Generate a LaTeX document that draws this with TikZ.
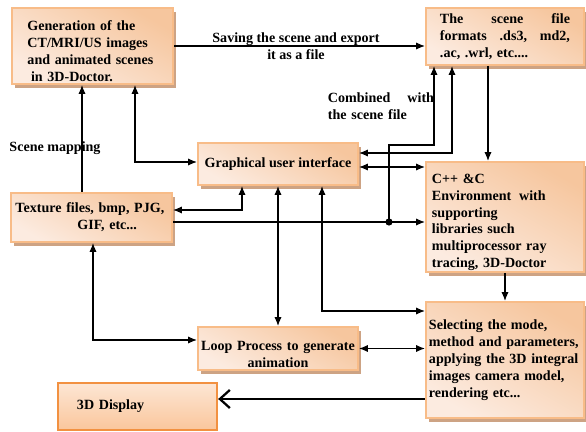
\documentclass[tikz,border=0pt]{standalone}
\usepackage{fontspec}
\setmainfont{Liberation Serif}
\usepackage{xcolor}
\usepackage{tikz}
\usetikzlibrary{positioning,arrows.meta,calc,shadows}
\definecolor{boxedge}{RGB}{248,188,136}
\definecolor{boxtop}{RGB}{246,198,158}
\definecolor{boxbottom}{RGB}{252,235,224}
\definecolor{boxshadow}{RGB}{205,163,132}
\definecolor{dispedge}{RGB}{242,145,65}
\definecolor{disptop}{RGB}{253,230,212}
\definecolor{dispbottom}{RGB}{250,198,156}
\newcommand{\diagfont}{\fontsize{10pt}{12pt}\selectfont\bfseries}

\begin{document}
\begin{tikzpicture}[x=0.025cm, y=-0.025cm,
    >={Latex[length=2.2mm,width=1.8mm]},
    stagebox/.style={draw=boxedge, line width=1.4pt, top color=boxtop, bottom color=boxbottom,
        shading angle=-30, inner sep=0pt, font=\diagfont,
        drop shadow={shadow xshift=0.08cm, shadow yshift=-0.1cm, fill=boxshadow, opacity=1}},
    displaybox/.style={draw=dispedge, line width=1.6pt, top color=disptop, bottom color=dispbottom, font=\diagfont},
    link/.style={line width=0.9pt},
    note/.style={font=\diagfont, align=center}]
    \useasboundingbox (0,0) rectangle (586,432);

    % Boxes
    \node[stagebox, minimum width=4.025cm, minimum height=1.9cm, text width=3.25cm, align=left] (gen) at (92.5,46)
        {\rule{0pt}{0.5cm}Generation of the\\ CT/MRI/US images\\ and animated scenes\\ \hspace*{0.25em}in 3D-Doctor.};
    \node[stagebox, minimum width=3.95cm, minimum height=1.425cm, text width=3.25cm, align=left] (scene) at (505,36.5)
        {The \hfill scene \hfill file\\ formats \hfill .ds3, \hfill md2,\\ .ac, .wrl, etc....};
    \node[stagebox, minimum width=4cm, minimum height=1.05cm] (gui) at (278,164) {Graphical user interface};
    \node[stagebox, minimum width=4.025cm, minimum height=1.225cm, text width=3.8cm, align=left] (tex) at (91.5,217.5)
        {Texture files, bmp, PJG,\\ \hspace*{4.4em}GIF, etc...\par\vspace*{0.5cm}};
    \node[stagebox, minimum width=3.95cm, minimum height=2.75cm, text width=3.65cm, align=left] (cpp) at (505,217)
        {\rule{0pt}{0.5cm}C++ \&C\\ Environment\hspace{0.55em}with\\ supporting\\ libraries such\\ multiprocessor ray\\ tracing, 3D-Doctor};
    \node[stagebox, minimum width=3.95cm, minimum height=2.9cm, text width=3.8cm, align=left] (sel) at (505,360)
        {Selecting the mode,\\ method and parameters,\\ applying the 3D integral\\ images camera model,\\ rendering etc...\par\vspace*{0.45cm}};
    \node[stagebox, minimum width=4cm, minimum height=1.075cm, text width=4cm, align=center] (loop) at (278,348.5)
        {\rule{0pt}{0.55cm}Loop Process to generate\\ animation};
    \node[displaybox, minimum width=3.975cm, minimum height=1.175cm, text width=3.025cm, align=left] (disp) at (137.5,406.5)
        {3D Display\par\vspace*{0.35cm}};

    % Labels
    \node[note] (savelbl) at (296,46.5) {Saving the scene and export\\ it as a file};
    \node[note] (maplbl) at (55,148) {Scene mapping};
    \node[note, text width=2.65cm, align=left] (comblbl) at (381,106) {Combined \hfill with\\ the scene file};

    % Bend points
    \coordinate (mapx) at (82,0);
    \coordinate (guibend) at (135,162);
    \coordinate (texbend) at (242,210);
    \coordinate (join) at (389,222);
    \coordinate (scenebendA) at (434,145);
    \coordinate (scenebendB) at (452,153);
    \coordinate (cpprow) at (0,167);
    \coordinate (downx) at (488,0);
    \coordinate (selbend) at (322,311);
    \coordinate (loopbend) at (93,340);
    \coordinate (disprow) at (0,399);

    % Connectors
    \draw[link,->] (gen.east) -- (gen.east -| scene.west);
    \draw[link,->] (tex.north -| mapx) -- (gen.south -| mapx);
    \draw[link,<->] (gen.south -| guibend) |- (guibend -| gui.west);
    \draw[link,<->] (gui.south -| texbend) |- (texbend -| tex.east);
    \draw[link,->] (join -| tex.east) -- (join -| cpp.west);
    \fill (join) circle[radius=0.09cm];
    \draw[link,->] (join) |- (scenebendA) -- (scenebendA |- scene.south);
    \draw[link,<->] (scenebendB -| gui.east) -| (scenebendB |- scene.south);
    \draw[link,<->] (cpprow -| gui.east) -- (cpprow -| cpp.west);
    \draw[link,->] (scene.south -| downx) -- (cpp.north -| downx);
    \draw[link,->] (cpp.south) -- (sel.north);
    \draw[link,<->] (gui.south) -- (loop.north);
    \draw[link,<->] (gui.south -| selbend) |- (selbend -| sel.west);
    \draw[link,<->] (tex.south -| loopbend) |- (loopbend -| loop.west);
    \draw[link,<->] (loop.east) -- (loop.east -| sel.west);
    \draw[line width=1.6pt, -{Straight Barb[length=2.5mm,width=4.5mm]}] (disprow -| sel.west) -- (disprow -| disp.east);
\end{tikzpicture}
\end{document}
